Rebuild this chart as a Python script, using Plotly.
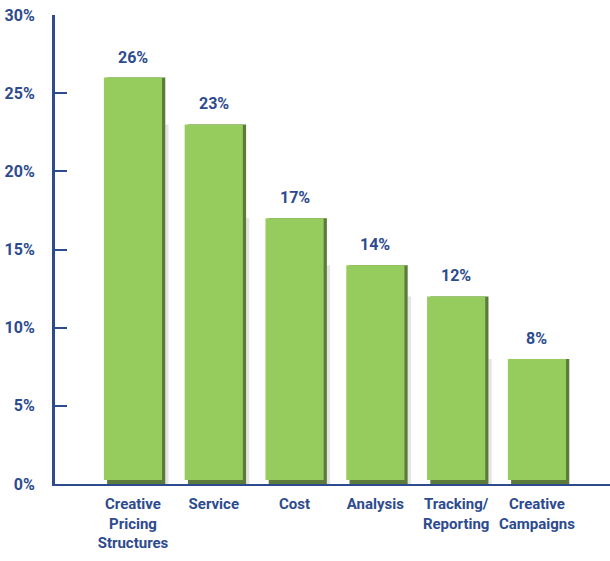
import plotly.graph_objects as go

categories = ["Creative<br>Pricing<br>Structures", "Service", "Cost", "Analysis",
              "Tracking/<br>Reporting", "Creative<br>Campaigns"]
values = [26, 23, 17, 14, 12, 8]
value_labels = ["26%", "23%", "17%", "14%", "12%", "8%"]
y_ticks = [0, 5, 10, 15, 20, 25, 30]
y_tick_labels = ["0%", "5%", "10%", "15%", "20%", "25%", "30%"]

FONT = "Roboto, Lato, sans-serif"
BLUE = "#2d4b8e"
GREEN = "#96cb5e"
DARK = "#5b7b3a"
GREY = "#e4e4e4"
xs = list(range(len(categories)))
BAR_W = 0.72
EDGE = 0.04   # dark edge on the right side
LIFT = 0.25   # dark strip at the foot of each bar

fig = go.Figure()
# faint grey strip next to each bar, reaching up to the following bar's height
fig.add_trace(go.Bar(x=xs[:-1], y=values[1:], width=EDGE, offset=BAR_W / 2 + EDGE,
                     marker=dict(color=GREY, line=dict(width=0)), hoverinfo="skip"))
# dark edge behind each bar (right side and bottom)
fig.add_trace(go.Bar(x=xs, y=values, width=BAR_W, offset=-BAR_W / 2 + EDGE,
                     marker=dict(color=DARK, line=dict(width=0)), hoverinfo="skip"))
# main face of the bars
fig.add_trace(go.Bar(x=xs, y=[v - LIFT for v in values], base=LIFT, width=BAR_W,
                     offset=-BAR_W / 2, marker=dict(color=GREEN, line=dict(width=0))))

for x, v, t in zip(xs, values, value_labels):
    fig.add_annotation(x=x, y=v, text=t, showarrow=False, yanchor="bottom", yshift=9,
                       font=dict(family=FONT, size=16, color=BLUE, weight="bold"))

fig.update_layout(
    width=610, height=561, barmode="overlay", showlegend=False,
    plot_bgcolor="white", paper_bgcolor="white",
    margin=dict(l=55, r=0, t=15, b=77),
    font=dict(family=FONT, size=16, color=BLUE),
    xaxis=dict(range=[-0.965, 5.904], tickvals=xs, ticktext=categories, tickangle=0,
               automargin=False, showline=True, linecolor=BLUE, linewidth=2,
               showgrid=False, zeroline=False, ticks="", ticklabelstandoff=5,
               tickfont=dict(family=FONT, size=15, color=BLUE, weight="bold")),
    yaxis=dict(range=[0, 30], tickvals=y_ticks, ticktext=y_tick_labels,
               automargin=False, showline=True, linecolor=BLUE, linewidth=3,
               showgrid=False, zeroline=False, ticks="inside", ticklen=12,
               tickwidth=2, tickcolor=BLUE, ticklabelstandoff=14,
               tickfont=dict(family=FONT, size=16, color=BLUE, weight="bold")),
)

fig.write_html("out.html")
